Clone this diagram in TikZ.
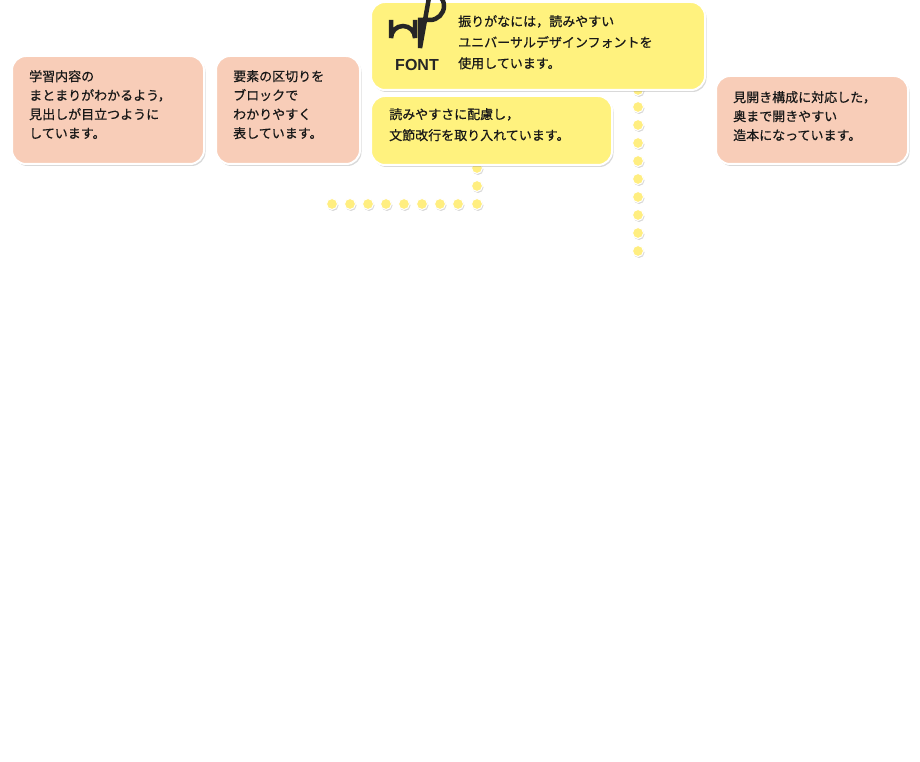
\documentclass[tikz,border=0pt]{standalone}
\usepackage{fontspec}
\newfontfamily\jp[FakeBold=0.6]{Noto Sans CJK JP}
\newfontfamily\jpb{Noto Sans CJK JP Bold}
\usetikzlibrary{shadows}
\definecolor{salmon}{HTML}{F8CDB8}
\definecolor{yel}{HTML}{FFF27E}
\definecolor{doty}{HTML}{FFEE80}
\begin{document}
\begin{tikzpicture}[x=1pt,y=-1pt,
 box/.style={draw=white,line width=2pt,rounded corners=14pt,drop shadow={shadow xshift=1.5pt,shadow yshift=-2pt,opacity=0.3}},
 txt/.style={anchor=north west,align=left,inner sep=0pt,font=\jp\fontsize{13}{19}\selectfont,text=black!90},
 dot/.style={circle,fill=doty,draw=white,line width=1pt,minimum size=11pt,inner sep=0pt,drop shadow={shadow xshift=1pt,shadow yshift=-1.5pt,opacity=0.3}}]
\useasboundingbox (0,0) rectangle (920,762);
% dots from C
\foreach \y [count=\i] in {90,107,125,143,161,179,197,215,233,251} \node[dot] (v\i) at (638,\y) {};
% dots from D
\foreach \y [count=\i] in {168,186} \node[dot] (w\i) at (477,\y) {};
\foreach \x [count=\i] in {477,458,440,422,404,386,368,350,332} \node[dot] (h\i) at (\x,204) {};
% boxes
\path[box,fill=salmon] (12,56) rectangle (204,164);
\node[txt] (ta) at (29,70) {学習内容の\\まとまりがわかるよう，\\見出しが目立つように\\しています。};
\path[box,fill=salmon] (216,56) rectangle (360,164);
\node[txt] (tb) at (233,70) {要素の区切りを\\ブロックで\\わかりやすく\\表しています。};
\path[box,fill=yel] (371,2) rectangle (705,90);
\node[txt,font=\jp\fontsize{13}{21}\selectfont] (tc) at (458,15) {振りがなには，読みやすい\\ユニバーサルデザインフォントを\\使用しています。};
\path[box,fill=yel] (371,96) rectangle (612,165);
\node[txt,font=\jp\fontsize{13}{21}\selectfont] (td) at (389,108) {読みやすさに配慮し，\\文節改行を取り入れています。};
\path[box,fill=salmon] (716,76) rectangle (908,164);
\node[txt] (te) at (733,91) {見開き構成に対応した，\\奥まで開きやすい\\造本になっています。};
% UD logo
\draw[line width=4.5pt,color=black!85] (391,20) -- (391,38) arc[start angle=180,end angle=360,radius=12] -- (415,20);
\draw[line width=4.5pt,color=black!85] (420,20) -- (430,20) arc[start angle=90,end angle=-90,radius=14] -- (420,48) -- cycle;
\node[inner sep=0pt,font=\fontspec{Liberation Sans Bold}\fontsize{16}{16}\selectfont,text=black!85] (lf) at (417,65) {FONT};
\end{tikzpicture}
\end{document}
